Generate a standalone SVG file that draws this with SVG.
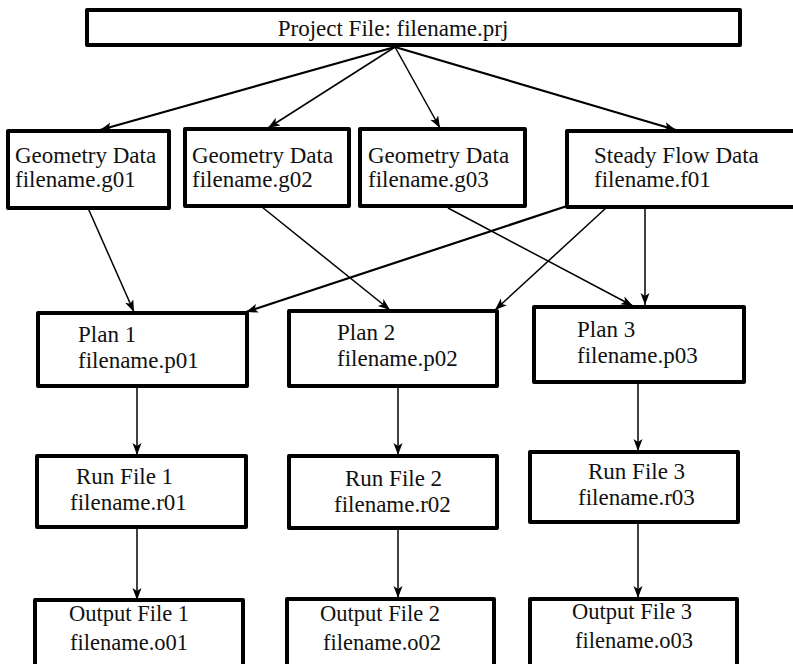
<svg xmlns="http://www.w3.org/2000/svg" width="793" height="664" viewBox="0 0 793 664">
<defs>
<marker id="ah" markerUnits="userSpaceOnUse" markerWidth="13" markerHeight="10" refX="12" refY="4.5" orient="auto">
<path d="M0,0 L12,4.5 L0,9 L3,4.5 z" fill="#000"/>
</marker>
<style>
.box{fill:#fff;stroke:#000;stroke-width:4;stroke-linejoin:round}
.t{font-family:"Liberation Serif","Times New Roman",serif;font-size:23px;fill:#111}
.o{font-size:22.5px}
.c{stroke:#000;stroke-width:1.5;fill:none;marker-end:url(#ah)}
.ct{stroke:#000;stroke-width:2.2;fill:none;marker-end:url(#ah)}
</style>
</defs>
<rect width="793" height="664" fill="#fff"/>
<g id="connectors">
<line class="ct" x1="395" y1="47" x2="100" y2="130"/>
<line class="c" x1="395" y1="47" x2="268" y2="128"/>
<line class="c" x1="395" y1="47" x2="440" y2="128"/>
<line class="ct" x1="395" y1="47" x2="676" y2="130"/>
<line class="c" x1="88" y1="208" x2="134" y2="312"/>
<line class="c" x1="262" y1="207" x2="390" y2="310"/>
<line class="c" x1="448" y1="208" x2="633" y2="306"/>
<line class="ct" x1="567" y1="206" x2="246" y2="312"/>
<line class="c" x1="606" y1="208" x2="495" y2="310"/>
<line class="c" x1="645" y1="208" x2="645" y2="305"/>
<line class="c" x1="137" y1="386" x2="137" y2="455"/>
<line class="c" x1="398" y1="386" x2="398" y2="455"/>
<line class="c" x1="638" y1="383" x2="638" y2="451"/>
<line class="c" x1="137" y1="527" x2="137" y2="600"/>
<line class="c" x1="398" y1="529" x2="398" y2="598"/>
<line class="c" x1="638" y1="522" x2="638" y2="598"/>
</g>
<g id="project">
<rect class="box" x="87" y="10" width="653" height="35"/>
<text class="t" x="393" y="36" text-anchor="middle">Project File: filename.prj</text>
</g>
<g id="geom1">
<rect class="box" x="8" y="131" width="161" height="77"/>
<text class="t" x="15" y="163">Geometry Data</text>
<text class="t" x="15" y="187">filename.g01</text>
</g>
<g id="geom2">
<rect class="box" x="185" y="129" width="164" height="77"/>
<text class="t" x="192" y="163">Geometry Data</text>
<text class="t" x="192" y="187">filename.g02</text>
</g>
<g id="geom3">
<rect class="box" x="360" y="129" width="165" height="77"/>
<text class="t" x="368" y="163">Geometry Data</text>
<text class="t" x="368" y="187">filename.g03</text>
</g>
<g id="flow">
<rect class="box" x="567" y="131" width="240" height="76"/>
<text class="t" x="594" y="163">Steady Flow Data</text>
<text class="t" x="594" y="187">filename.f01</text>
</g>
<g id="plan1">
<rect class="box" x="38" y="313" width="209" height="73"/>
<text class="t" x="78" y="342">Plan 1</text>
<text class="t" x="78" y="368">filename.p01</text>
</g>
<g id="plan2">
<rect class="box" x="289" y="311" width="208" height="75"/>
<text class="t" x="337" y="340">Plan 2</text>
<text class="t" x="337" y="366">filename.p02</text>
</g>
<g id="plan3">
<rect class="box" x="534" y="307" width="210" height="75"/>
<text class="t" x="577" y="337">Plan 3</text>
<text class="t" x="577" y="363">filename.p03</text>
</g>
<g id="run1">
<rect class="box" x="37" y="456" width="209" height="71"/>
<text class="t" x="76" y="484">Run File 1</text>
<text class="t" x="70" y="510">filename.r01</text>
</g>
<g id="run2">
<rect class="box" x="289" y="456" width="208" height="72"/>
<text class="t" x="345" y="486">Run File 2</text>
<text class="t" x="334" y="512">filename.r02</text>
</g>
<g id="run3">
<rect class="box" x="530" y="452" width="208" height="70"/>
<text class="t" x="588" y="479">Run File 3</text>
<text class="t" x="578" y="505">filename.r03</text>
</g>
<g id="out1">
<rect class="box" x="35" y="600" width="208" height="70"/>
<text class="t o" x="69" y="621">Output File 1</text>
<text class="t o" x="70" y="650">filename.o01</text>
</g>
<g id="out2">
<rect class="box" x="287" y="599" width="207" height="71"/>
<text class="t o" x="320" y="621">Output File 2</text>
<text class="t o" x="323" y="650">filename.o02</text>
</g>
<g id="out3">
<rect class="box" x="530" y="599" width="207" height="71"/>
<text class="t o" x="572" y="619">Output File 3</text>
<text class="t o" x="575" y="648">filename.o03</text>
</g>
</svg>
